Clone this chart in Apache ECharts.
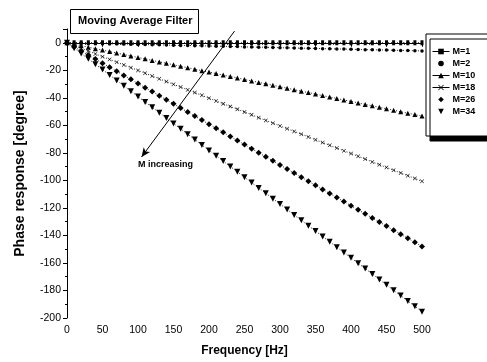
<!DOCTYPE html>
<html>
<head>
<meta charset="utf-8">
<style>
  html, body { margin: 0; padding: 0; background: #fff; }
  #chart { width: 487px; height: 362px; }
</style>
<script src="https://cdn.jsdelivr.net/npm/echarts@6/dist/echarts.min.js"></script>
</head>
<body>
<div id="chart"></div>
<script>
// frequency axis, 10 Hz steps
const freqs = [0, 10, 20, 30, 40, 50, 60, 70, 80, 90, 100, 110, 120, 130, 140, 150, 160, 170, 180, 190, 200,
  210, 220, 230, 240, 250, 260, 270, 280, 290, 300, 310, 320, 330, 340, 350, 360, 370, 380, 390, 400,
  410, 420, 430, 440, 450, 460, 470, 480, 490, 500];

const m1 = [0, 0, 0, 0, 0, 0, 0, 0, 0, 0, 0, 0, 0, 0, 0, 0, 0, 0, 0, 0, 0, 0, 0, 0, 0, 0,
  0, 0, 0, 0, 0, 0, 0, 0, 0, 0, 0, 0, 0, 0, 0, 0, 0, 0, 0, 0, 0, 0, 0, 0, 0];
const m2 = [0, -0.1, -0.2, -0.4, -0.5, -0.6, -0.7, -0.8, -0.9, -1.1, -1.2, -1.3, -1.4, -1.5, -1.7, -1.8,
  -1.9, -2.0, -2.1, -2.2, -2.4, -2.5, -2.6, -2.7, -2.8, -3.0, -3.1, -3.2, -3.3, -3.4, -3.6, -3.7, -3.8,
  -3.9, -4.0, -4.1, -4.3, -4.4, -4.5, -4.6, -4.7, -4.9, -5.0, -5.1, -5.2, -5.3, -5.4, -5.6, -5.7, -5.8, -5.9];
const m10 = [0, -1.1, -2.1, -3.2, -4.3, -5.3, -6.4, -7.5, -8.5, -9.6, -10.7, -11.7, -12.8, -13.9, -14.9,
  -16.0, -17.1, -18.1, -19.2, -20.3, -21.3, -22.4, -23.5, -24.5, -25.6, -26.7, -27.7, -28.8, -29.8, -30.9,
  -32.0, -33.0, -34.1, -35.2, -36.2, -37.3, -38.4, -39.4, -40.5, -41.6, -42.6, -43.7, -44.8, -45.8, -46.9,
  -48.0, -49.0, -50.1, -51.2, -52.2, -53.3];
const m18 = [0, -2.0, -4.0, -6.0, -8.1, -10.1, -12.1, -14.1, -16.1, -18.1, -20.1, -22.1, -24.2, -26.2,
  -28.2, -30.2, -32.2, -34.2, -36.2, -38.2, -40.3, -42.3, -44.3, -46.3, -48.3, -50.3, -52.3, -54.4, -56.4,
  -58.4, -60.4, -62.4, -64.4, -66.4, -68.4, -70.5, -72.5, -74.5, -76.5, -78.5, -80.5, -82.5, -84.5, -86.6,
  -88.6, -90.6, -92.6, -94.6, -96.6, -98.6, -100.7];
const m26 = [0, -3.0, -5.9, -8.9, -11.8, -14.8, -17.8, -20.7, -23.7, -26.6, -29.6, -32.6, -35.5, -38.5,
  -41.4, -44.4, -47.4, -50.3, -53.3, -56.2, -59.2, -62.2, -65.1, -68.1, -71.0, -74.0, -77.0, -79.9, -82.9,
  -85.8, -88.8, -91.8, -94.7, -97.7, -100.6, -103.6, -106.6, -109.5, -112.5, -115.4, -118.4, -121.4, -124.3,
  -127.3, -130.2, -133.2, -136.2, -139.1, -142.1, -145.0, -148.0];
const m34 = [0, -3.9, -7.8, -11.7, -15.6, -19.5, -23.4, -27.4, -31.3, -35.2, -39.1, -43.0, -46.9, -50.8,
  -54.7, -58.6, -62.5, -66.4, -70.3, -74.3, -78.2, -82.1, -86.0, -89.9, -93.8, -97.7, -101.6, -105.5, -109.4,
  -113.3, -117.2, -121.1, -125.1, -129.0, -132.9, -136.8, -140.7, -144.6, -148.5, -152.4, -156.3, -160.2,
  -164.1, -168.0, -172.0, -175.9, -179.8, -183.7, -187.6, -191.5, -195.4];

const seriesNames = ["M=1", "M=2", "M=10", "M=18", "M=26", "M=34"];
const seriesValues = [m1, m2, m10, m18, m26, m34];

// arrow annotation, in data coordinates [Hz, degree]
const arrowFrom = [236, 8.5];
const arrowTo = [105, -83];

const FONT = "'Liberation Sans', Arial, sans-serif";
const crossPath = "path://M0,1L1,0L5,4L9,0L10,1L6,5L10,9L9,10L5,6L1,10L0,9L4,5Z";
const markers = [
  { symbol: "rect", symbolSize: [3, 5], rotate: 0 },
  { symbol: "circle", symbolSize: 3.5, rotate: 0 },
  { symbol: "triangle", symbolSize: 5, rotate: 0 },
  { symbol: crossPath, symbolSize: 4, rotate: 0 },
  { symbol: "diamond", symbolSize: 6, rotate: 0 },
  { symbol: "triangle", symbolSize: 6, rotate: 180 }
];

const myChart = echarts.init(document.getElementById("chart"), null, { renderer: "canvas" });

const series = seriesNames.map((name, i) => {
  const s = {
    name: name,
    type: "line",
    data: freqs.map((f, k) => [f, seriesValues[i][k]]),
    symbol: markers[i].symbol,
    symbolSize: markers[i].symbolSize,
    symbolRotate: markers[i].rotate,
    showAllSymbol: true,
    animation: false,
    lineStyle: { color: "#222", width: 1, type: [1, 2] },
    itemStyle: { color: "#000", borderWidth: 0 },
    z: 3
  };
  if (i === 5) {
    s.markLine = {
      silent: true,
      animation: false,
      symbol: ["none", "arrow"],
      symbolSize: [6, 9],
      lineStyle: { color: "#000", type: "solid", width: 1 },
      label: { show: false },
      data: [[{ coord: arrowFrom }, { coord: arrowTo }]]
    };
  }
  return s;
});

const option = {
  animation: false,
  grid: { left: 67, right: 65, top: 29, bottom: 42 },
  legend: {
    orient: "vertical",
    left: 426,
    top: 34,
    padding: [13, 40, 20, 6],
    itemGap: 3,
    itemWidth: 17,
    itemHeight: 7,
    backgroundColor: "#fff",
    borderColor: "#000",
    borderWidth: 1,
    borderRadius: 0,
    shadowColor: "#000",
    shadowBlur: 0,
    shadowOffsetX: 4,
    shadowOffsetY: 5,
    selectedMode: false,
    textStyle: { fontFamily: FONT, fontSize: 9, fontWeight: "bold", color: "#000", padding: [0, 0, 0, -2] },
    lineStyle: { type: "solid", color: "#000", width: 1 },
    data: seriesNames.map((n, i) => (i === 1 || i === 4 || i === 5)
      ? { name: n, lineStyle: { opacity: 0 } }
      : { name: n })
  },
  xAxis: {
    type: "value",
    min: 0,
    max: 500,
    interval: 50,
    name: "Frequency [Hz]",
    nameLocation: "middle",
    nameGap: 27,
    nameTextStyle: { fontFamily: FONT, fontSize: 12, fontWeight: "bold", color: "#000" },
    axisLine: { lineStyle: { color: "#000", width: 1 } },
    axisTick: { inside: false, length: 4, lineStyle: { color: "#000" } },
    minorTick: { show: true, splitNumber: 2, length: 2, lineStyle: { color: "#000" } },
    splitLine: { show: false },
    axisLabel: { fontFamily: FONT, fontSize: 10.5, color: "#000", margin: 7 }
  },
  yAxis: {
    type: "value",
    min: -200,
    max: 10,
    interval: 20,
    name: "Phase response [degree]",
    nameLocation: "middle",
    nameGap: 40,
    nameTextStyle: { fontFamily: FONT, fontSize: 14, fontWeight: "bold", color: "#000" },
    axisLine: { show: true, lineStyle: { color: "#000", width: 1 } },
    axisTick: { inside: false, length: 4, lineStyle: { color: "#000" } },
    minorTick: { show: true, splitNumber: 2, length: 2, lineStyle: { color: "#000" } },
    splitLine: { show: false },
    axisLabel: {
      fontFamily: FONT, fontSize: 10.5, color: "#000", margin: 6,
      formatter: (v) => (v > 0 ? "" : String(v))
    }
  },
  graphic: [
    {
      type: "rect",
      left: 70,
      top: 9,
      shape: { width: 128, height: 24 },
      style: { fill: "#fff", stroke: "#000", lineWidth: 1 },
      z: 10
    },
    {
      type: "text",
      left: 78,
      top: 15,
      style: { text: "Moving Average Filter", font: "bold 11px " + FONT, fill: "#000" },
      z: 11
    },
    {
      type: "text",
      left: 138,
      top: 160,
      style: { text: "M increasing", font: "bold 9px " + FONT, fill: "#000" },
      z: 11
    }
  ],
  series: series
};

myChart.setOption(option);
</script>
</body>
</html>
